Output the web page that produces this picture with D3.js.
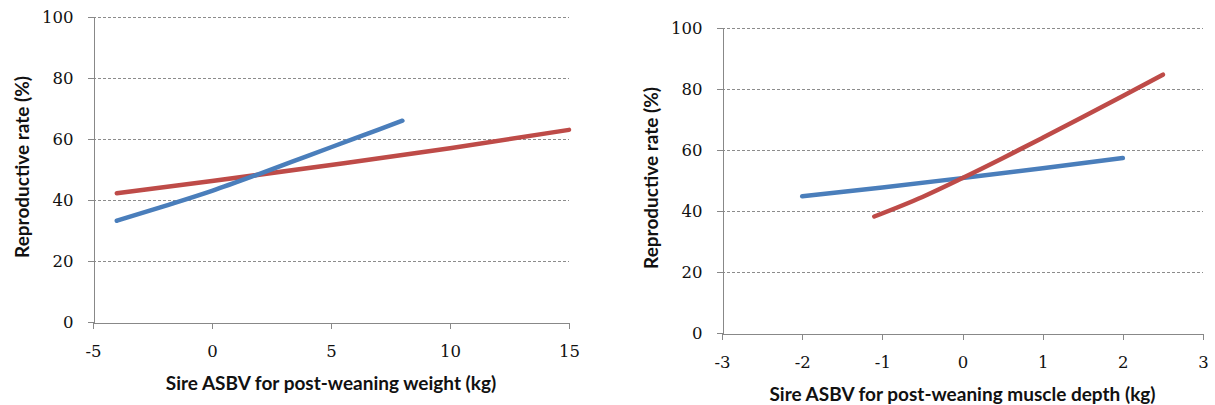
<!DOCTYPE html>
<html lang="en">
<head>
<meta charset="UTF-8"/>
<title>Reproductive rate vs sire ASBV</title>
<script src="https://d3js.org/d3.v7.min.js"></script>
<style>
  body { margin: 0; background: #fff; }
  .tick text { font-family: "DejaVu Serif", serif; font-size: 16.5px; fill: #111; }
  .axis path, .axis line { stroke: #888; shape-rendering: crispEdges; }
  .grid { stroke: #8c8c8c; stroke-dasharray: 3,2; shape-rendering: crispEdges; }
  .title { font-family: Lato, "Open Sans", sans-serif; font-weight: bold; font-size: 19px; fill: #111; }
</style>
</head>
<body>
<script>
// ---- data ----
var yTicks = [0, 20, 40, 60, 80, 100];

// left panel: post-weaning weight
var wXTicks = [-5, 0, 5, 10, 15];
var wBlueX = [-4, -2, 0, 2, 4, 6, 8];
var wBlueY = [33.2, 38, 43, 48.6, 54.4, 60.2, 66];
var wRedX = [-4, 0, 5, 10, 15];
var wRedY = [42.2, 46.2, 51.5, 57, 63];

// right panel: post-weaning muscle depth
var mXTicks = [-3, -2, -1, 0, 1, 2, 3];
var mBlueX = [-2, -1, 0, 1, 2];
var mBlueY = [44.8, 47.7, 50.8, 54, 57.4];
var mRedX = [-1.1, -0.5, 0, 0.5, 1, 1.5, 2, 2.5];
var mRedY = [38.2, 44.6, 50.8, 57.3, 64, 70.8, 77.7, 84.7];

var blue = "#4a7ebb", red = "#be4b48";

var svg = d3.select("body").append("svg")
  .attr("width", 1215)
  .attr("height", 405);

// plain hyphen for negatives, like the original
var fmt = function(d) { return String(d); };

function panel(opt) {
  var x = d3.scaleLinear().domain(d3.extent(opt.xTicks)).range([opt.left, opt.right]);
  var y = d3.scaleLinear().domain([0, 100]).range([opt.bottom, opt.top]);
  var g = svg.append("g");

  // dashed gridlines
  g.selectAll("line.grid")
    .data(yTicks.slice(1))
    .enter().append("line")
    .attr("class", "grid")
    .attr("x1", opt.left).attr("x2", opt.right)
    .attr("y1", function(d){ return y(d) + 0.5; })
    .attr("y2", function(d){ return y(d) + 0.5; });

  // axes
  var xa = g.append("g").attr("class", "axis")
    .attr("transform", "translate(0," + (opt.bottom + 0.5) + ")")
    .call(d3.axisBottom(x).tickValues(opt.xTicks).tickFormat(fmt).tickSize(6).tickSizeOuter(0));
  xa.selectAll(".tick text").attr("y", 29).attr("dy", "0.35em");

  g.append("g").attr("class", "axis")
    .attr("transform", "translate(" + (opt.left + 0.5) + ",0)")
    .call(d3.axisLeft(y).tickValues(yTicks).tickFormat(fmt).tickSize(6).tickSizeOuter(0).tickPadding(14));

  g.selectAll(".domain").attr("stroke", "#888");

  // series
  var line = d3.line()
    .x(function(d){ return x(d[0]); })
    .y(function(d){ return y(d[1]); })
    .curve(d3.curveMonotoneX);

  opt.series.forEach(function(s) {
    g.append("path")
      .datum(d3.zip(s.x, s.y))
      .attr("fill", "none")
      .attr("stroke", s.color)
      .attr("stroke-width", 4.5)
      .attr("stroke-linecap", "round")
      .attr("d", line);
  });

  // axis titles
  g.append("text").attr("class", "title")
    .attr("text-anchor", "middle")
    .attr("x", (opt.left + opt.right) / 2)
    .attr("y", opt.xTitleY)
    .text(opt.xTitle);

  g.append("text").attr("class", "title")
    .attr("text-anchor", "middle")
    .attr("transform", "translate(" + opt.yTitleX + "," + opt.yTitleY + ") rotate(-90)")
    .attr("dy", "0.35em")
    .text("Reproductive rate (%)");
}

panel({
  left: 93, right: 569, top: 17, bottom: 322,
  xTicks: wXTicks,
  xTitle: "Sire ASBV for post-weaning weight (kg)", xTitleY: 390,
  yTitleX: 22, yTitleY: 167,
  series: [
    { x: wRedX, y: wRedY, color: red },
    { x: wBlueX, y: wBlueY, color: blue }
  ]
});

panel({
  left: 722, right: 1203, top: 28, bottom: 333,
  xTicks: mXTicks,
  xTitle: "Sire ASBV for post-weaning muscle depth (kg)", xTitleY: 401,
  yTitleX: 651, yTitleY: 178,
  series: [
    { x: mBlueX, y: mBlueY, color: blue },
    { x: mRedX, y: mRedY, color: red }
  ]
});
</script>
</body>
</html>
